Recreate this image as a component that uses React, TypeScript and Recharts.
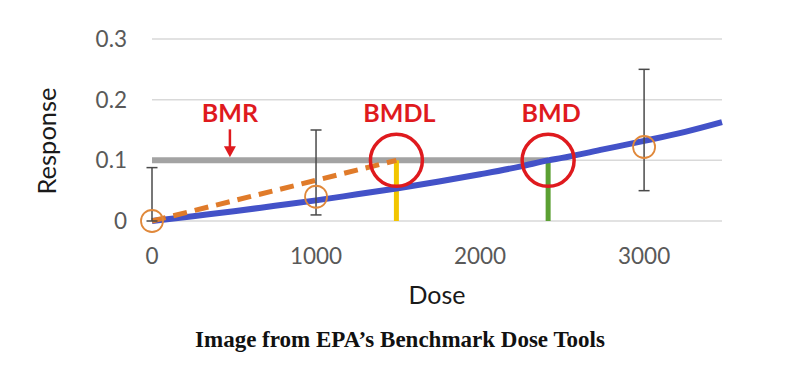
import {
  ComposedChart,
  Line,
  Scatter,
  ErrorBar,
  XAxis,
  YAxis,
  CartesianGrid,
  Label,
} from 'recharts'

// fitted dose-response curve
const curveDose = [0, 250, 500, 750, 1000, 1250, 1500, 1750, 2000, 2250, 2415, 2500, 2750, 3000, 3250, 3475]
const curveResp = [0, 0.008, 0.016, 0.025, 0.034, 0.044, 0.054, 0.065, 0.077, 0.09, 0.1, 0.104, 0.118, 0.132, 0.147, 0.163]

// observed group means with confidence limits
const obsDose = [0, 1000, 3000]
const obsResp = [0, 0.04, 0.122]
const obsLow = [0, 0.01, 0.05]
const obsHigh = [0.088, 0.15, 0.25]

const bmr = 0.1
const bmdl = 1490
const bmd = 2415
const bmrLabelDose = 475

const xTicks = [0, 1000, 2000, 3000]
const yTicks = [0, 0.1, 0.2, 0.3]

const curve = curveDose.map((x, i) => ({ x, y: curveResp[i] }))
const observed = obsDose.map((x, i) => ({
  x,
  y: obsResp[i],
  err: [obsResp[i] - obsLow[i], obsHigh[i] - obsResp[i]],
}))
const bmrLine = [{ x: 0, y: bmr }, { x: bmd, y: bmr }]
const bmdlLine = [{ x: 0, y: 0 }, { x: bmdl, y: bmr }]
const bmdlDrop = [{ x: bmdl, y: 0 }, { x: bmdl, y: bmr }]
const bmdDrop = [{ x: bmd, y: 0 }, { x: bmd, y: bmr }]
const markers = [
  { x: bmdl, y: bmr, label: 'BMDL' },
  { x: bmd, y: bmr, label: 'BMD' },
]
const bmrMark = [{ x: bmrLabelDose, y: bmr, label: 'BMR' }]

const RED = '#df1a1e'

const ObsDot = (p: any) => (
  <circle cx={p.cx} cy={p.cy} r={11} fill="none" stroke="#e0883a" strokeWidth={1.8} />
)

const MarkerDot = (p: any) => (
  <g>
    <circle cx={p.cx} cy={p.cy} r={26} fill="none" stroke={RED} strokeWidth={3.5} />
    <text x={p.cx + 3} y={p.cy - 38} textAnchor="middle" fill={RED} fontSize={25} fontWeight={700}>
      {p.payload.label}
    </text>
  </g>
)

const BmrDot = (p: any) => (
  <g>
    <text x={p.cx} y={p.cy - 38} textAnchor="middle" fill={RED} fontSize={25} fontWeight={700}>
      {p.payload.label}
    </text>
    <line x1={p.cx} x2={p.cx} y1={p.cy - 31} y2={p.cy - 12} stroke={RED} strokeWidth={2.5} />
    <polygon
      points={`${p.cx - 6},${p.cy - 14} ${p.cx + 6},${p.cy - 14} ${p.cx},${p.cy - 3}`}
      fill={RED}
    />
  </g>
)

const ResponseLabel = (p: any) => {
  const vb = p.viewBox
  const cx = vb.x + 38
  const cy = vb.y + vb.height / 2 + 11
  return (
    <text
      x={cx}
      y={cy}
      transform={`rotate(-90, ${cx}, ${cy})`}
      textAnchor="middle"
      dominantBaseline="central"
      fill="#1a1a1a"
      fontSize={25.5}
    >
      Response
    </text>
  )
}

export default function App() {
  return (
    <div>
      <ComposedChart
        width={784}
        height={305}
        margin={{ top: 31, right: 70, bottom: 0, left: 0 }}
        style={{ fontFamily: 'Lato, sans-serif' }}
      >
        <CartesianGrid horizontal vertical={false} stroke="#d9d9d9" strokeWidth={1.5} />
        <XAxis
          type="number"
          dataKey="x"
          domain={[0, 3475]}
          ticks={xTicks}
          axisLine={false}
          tickLine={false}
          tickSize={0}
          tickMargin={27}
          height={92}
          tick={{ fill: '#595959', fontSize: 22.5 }}
        >
          <Label value="Dose" position="insideBottom" offset={9} fill="#1a1a1a" fontSize={25} />
        </XAxis>
        <YAxis
          type="number"
          dataKey="y"
          domain={[0, 0.3]}
          ticks={yTicks}
          axisLine={false}
          tickLine={false}
          tickSize={0}
          tickMargin={25}
          width={144}
          tick={{ fill: '#595959', fontSize: 22.5 }}
        >
          <Label content={ResponseLabel} />
        </YAxis>
        <Line
          data={bmrLine}
          dataKey="y"
          stroke="#a3a3a3"
          strokeWidth={6}
          dot={false}
          activeDot={false}
          isAnimationActive={false}
        />
        <Line
          data={bmdlDrop}
          dataKey="y"
          stroke="#f2c500"
          strokeWidth={5}
          dot={false}
          activeDot={false}
          isAnimationActive={false}
        />
        <Line
          data={bmdDrop}
          dataKey="y"
          stroke="#5ba033"
          strokeWidth={5}
          dot={false}
          activeDot={false}
          isAnimationActive={false}
        />
        <Line
          data={curve}
          dataKey="y"
          type="monotone"
          stroke="#4352c8"
          strokeWidth={6}
          dot={false}
          activeDot={false}
          isAnimationActive={false}
        />
        <Line
          data={bmdlLine}
          dataKey="y"
          stroke="#e07b2a"
          strokeWidth={5}
          strokeDasharray="14 8"
          dot={false}
          activeDot={false}
          isAnimationActive={false}
        />
        <Scatter data={observed} dataKey="y" shape={ObsDot} isAnimationActive={false}>
          <ErrorBar dataKey="err" direction="y" width={5.5} stroke="#4a4a4a" strokeWidth={1.5} />
        </Scatter>
        <Scatter data={markers} dataKey="y" shape={MarkerDot} isAnimationActive={false} />
        <Scatter data={bmrMark} dataKey="y" shape={BmrDot} isAnimationActive={false} />
      </ComposedChart>
      <div
        style={{
          width: 784,
          marginTop: 14,
          textAlign: 'center',
          fontFamily: '"Liberation Serif", serif',
          fontWeight: 700,
          fontSize: 23,
          lineHeight: '26px',
          color: '#111',
        }}
      >
        Image from EPA’s Benchmark Dose Tools
      </div>
    </div>
  )
}
